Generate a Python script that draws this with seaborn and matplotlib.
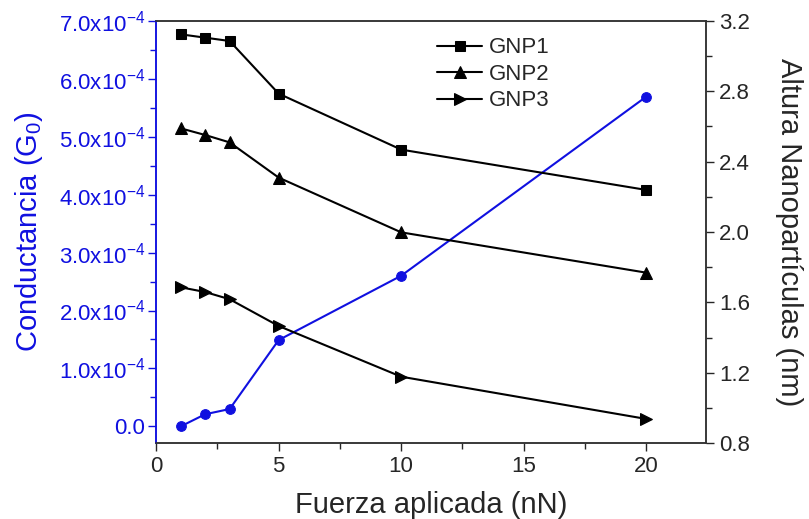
import numpy as np
import pandas as pd
import matplotlib
matplotlib.use('Agg')
import matplotlib.pyplot as plt
import seaborn as sns
from matplotlib.ticker import FuncFormatter, MultipleLocator, AutoMinorLocator

# datos
fuerza = [1, 2, 3, 5, 10, 20]
conductancia = [0.0, 0.21e-4, 0.30e-4, 1.49e-4, 2.60e-4, 5.69e-4]
gnp1 = [3.123, 3.104, 3.085, 2.786, 2.468, 2.239]
gnp2 = [2.589, 2.551, 2.509, 2.309, 1.998, 1.769]
gnp3 = [1.686, 1.659, 1.618, 1.466, 1.178, 0.938]

sns.set_style('ticks')
plt.rcParams['font.family'] = ['Liberation Sans', 'DejaVu Sans']
plt.rcParams['mathtext.fontset'] = 'custom'
plt.rcParams['mathtext.rm'] = 'Liberation Sans'

azul = '#1010e0'
fig = plt.figure(figsize=(8.09, 5.19), dpi=100)
ax = fig.add_axes([0.193, 0.146, 0.680, 0.814])
ax2 = ax.twinx()

sns.lineplot(x=fuerza, y=conductancia, ax=ax, color=azul, marker='o',
             markersize=7, markeredgecolor=azul, linewidth=1.5)

df = pd.DataFrame({'x': fuerza * 3,
                   'y': gnp1 + gnp2 + gnp3,
                   'serie': ['GNP1'] * 6 + ['GNP2'] * 6 + ['GNP3'] * 6})
for nombre, m, ms in [('GNP1', 's', 7), ('GNP2', '^', 8), ('GNP3', '>', 8)]:
    d = df[df.serie == nombre]
    sns.lineplot(data=d, x='x', y='y', ax=ax2, color='black', marker=m,
                 markersize=ms, markeredgecolor='black', linewidth=1.5, label=nombre)

ax.set_xlim(0, 22.45)
ax.set_ylim(-0.29e-4, 7.0e-4)
ax2.set_ylim(0.8, 3.2)

ax.xaxis.set_major_locator(MultipleLocator(5))
ax.xaxis.set_minor_locator(AutoMinorLocator(2))
ax.yaxis.set_major_locator(MultipleLocator(1e-4))
ax.yaxis.set_minor_locator(AutoMinorLocator(2))
ax2.yaxis.set_major_locator(MultipleLocator(0.4))
ax2.yaxis.set_minor_locator(AutoMinorLocator(2))

def fmt(v, pos):
    if abs(v) < 1e-9:
        return '0.0'
    return r'$\mathregular{%.1fx10^{-4}}$' % (v / 1e-4)
ax.yaxis.set_major_formatter(FuncFormatter(fmt))
ax2.yaxis.set_major_formatter(FuncFormatter(lambda v, p: '%.1f' % v))

ax.tick_params(axis='both', which='major', labelsize=16, length=6, width=1, direction='out', pad=3)
ax.tick_params(axis='both', which='minor', length=4, width=1, direction='out')
ax.tick_params(axis='y', which='both', colors=azul, labelcolor=azul, pad=2)
ax2.tick_params(axis='y', which='major', labelsize=16, length=6, width=1, direction='out', pad=3)
ax2.tick_params(axis='y', which='minor', length=4, width=1, direction='out')

for a in (ax, ax2):
    for s in a.spines.values():
        s.set_linewidth(1.1)
        s.set_color('#333333')
ax2.spines['left'].set_color(azul)
ax.spines['left'].set_color(azul)

ax.set_xlabel('Fuerza aplicada (nN)', fontsize=21, labelpad=10)
ax.set_ylabel(r'Conductancia (G$_\mathregular{0}$)', fontsize=21, color=azul, labelpad=10)
ax2.set_ylabel('Altura Nanopartículas (nm)', fontsize=21, rotation=270, labelpad=38)

ax2.legend(loc='upper left', bbox_to_anchor=(0.475, 1.008), frameon=False,
           fontsize=16, handlelength=2.0, handletextpad=0.3, labelspacing=0.25)

fig.savefig('out.png', dpi=100)
